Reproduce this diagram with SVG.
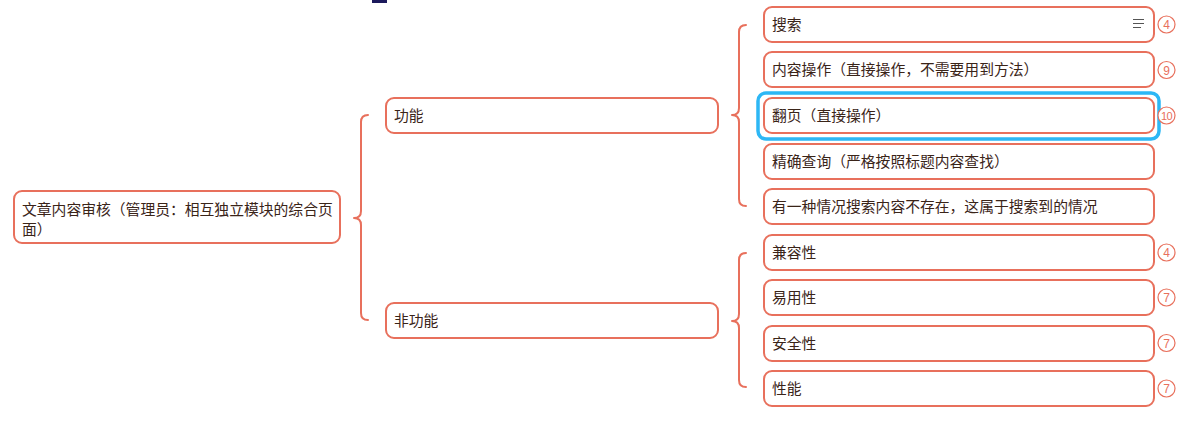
<svg xmlns="http://www.w3.org/2000/svg" width="1200" height="430" viewBox="0 0 1200 430">
<style>
.n{fill:#fff;stroke:#e8705c;stroke-width:2}
.t{font-family:"Noto Sans CJK SC","Microsoft YaHei",sans-serif;font-size:14.8px;fill:#3a2418}
.b{fill:none;stroke:#e8705c;stroke-width:2;stroke-linecap:round;stroke-linejoin:round}
.c{fill:#fff;stroke:#e8705c;stroke-width:1.2}
.ct{font-family:"Liberation Sans",Arial,sans-serif;font-size:12px;fill:#e8705c;text-anchor:middle}
.sel{fill:none;stroke:#2db7f5;stroke-width:3.5}
</style>
<rect width="1200" height="430" fill="#fff"/>
<rect x="372" y="0" width="15" height="3" fill="#1c1a5c"/>
<g id="connectors">
<path class="b" d="M368,115 Q361,115 361,122 L361,211 Q361,218 354,218 Q361,218 361,225 L361,313 Q361,320 368,320"/>
<path class="b" d="M746,25 Q739,25 739,32 L739,108 Q739,115 732,115 Q739,115 739,122 L739,199 Q739,206 746,206"/>
<path class="b" d="M746,253 Q739,253 739,260 L739,314 Q739,321 732,321 Q739,321 739,328 L739,380 Q739,387 746,387"/>
</g>
<g id="root">
<rect class="n" x="14" y="191" width="326" height="52" rx="8"/>
<text class="t" x="22" y="214.5">文章内容审核（管理员：相互独立模块的综合页</text>
<text class="t" x="22" y="234.5">面）</text>
</g>
<g id="func">
<rect class="n" x="386" y="98" width="332" height="35" rx="8"/>
<text class="t" x="394" y="121">功能</text>
</g>
<g id="nonfunc">
<rect class="n" x="386" y="303" width="332" height="35" rx="8"/>
<text class="t" x="394" y="326">非功能</text>
</g>
<g id="search">
<rect class="n" x="764" y="7" width="390" height="35" rx="8"/>
<text class="t" x="772" y="30">搜索</text>
<path d="M1133,19.5h11M1133,23.5h11M1133,27.5h8" stroke="#555" stroke-width="1"/>
<circle class="c" cx="1166.5" cy="24.5" r="8.5"/>
<text class="ct" x="1166.5" y="29">4</text>
</g>
<g id="content">
<rect class="n" x="764" y="52" width="390" height="35" rx="8"/>
<text class="t" x="772" y="75">内容操作（直接操作，不需要用到方法）</text>
<circle class="c" cx="1166.5" cy="70" r="8.5"/>
<text class="ct" x="1166.5" y="74.5">9</text>
</g>
<g id="page">
<rect class="sel" x="758" y="93" width="401" height="46" rx="8"/>
<rect class="n" x="764" y="98" width="390" height="35" rx="8"/>
<text class="t" x="772" y="121">翻页（直接操作）</text>
<circle class="c" cx="1166.5" cy="115.5" r="8.5"/>
<text class="ct" x="1166.5" y="120" style="font-size:11px;letter-spacing:-0.5px">10</text>
</g>
<g id="exact">
<rect class="n" x="764" y="144" width="390" height="35" rx="8"/>
<text class="t" x="772" y="167">精确查询（严格按照标题内容查找）</text>
</g>
<g id="notexist">
<rect class="n" x="764" y="189" width="390" height="35" rx="8"/>
<text class="t" x="772" y="212">有一种情况搜索内容不存在，这属于搜索到的情况</text>
</g>
<g id="compat">
<rect class="n" x="764" y="235" width="390" height="35" rx="8"/>
<text class="t" x="772" y="258">兼容性</text>
<circle class="c" cx="1166.5" cy="252.5" r="8.5"/>
<text class="ct" x="1166.5" y="257">4</text>
</g>
<g id="usability">
<rect class="n" x="764" y="280" width="390" height="35" rx="8"/>
<text class="t" x="772" y="303">易用性</text>
<circle class="c" cx="1166.5" cy="297.5" r="8.5"/>
<text class="ct" x="1166.5" y="302">7</text>
</g>
<g id="security">
<rect class="n" x="764" y="326" width="390" height="35" rx="8"/>
<text class="t" x="772" y="349">安全性</text>
<circle class="c" cx="1166.5" cy="343" r="8.5"/>
<text class="ct" x="1166.5" y="347.5">7</text>
</g>
<g id="perf">
<rect class="n" x="764" y="371" width="390" height="35" rx="8"/>
<text class="t" x="772" y="394">性能</text>
<circle class="c" cx="1166.5" cy="388.5" r="8.5"/>
<text class="ct" x="1166.5" y="393">7</text>
</g>
</svg>
